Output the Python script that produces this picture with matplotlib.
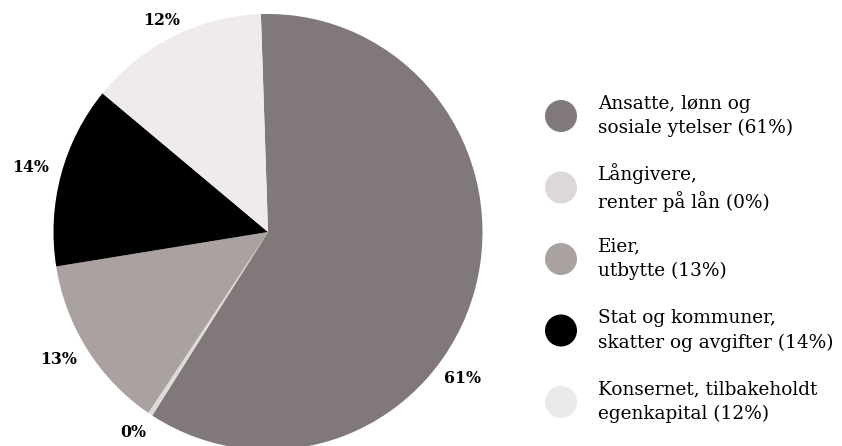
import matplotlib
matplotlib.use("Agg")
import matplotlib.pyplot as plt
from matplotlib.patches import Circle

# legend texts and slice labels
categories = [
    "Ansatte, lønn og\nsosiale ytelser (61%)",
    "Långivere,\nrenter på lån (0%)",
    "Eier,\nutbytte (13%)",
    "Stat og kommuner,\nskatter og avgifter (14%)",
    "Konsernet, tilbakeholdt\negenkapital (12%)",
]
pct_labels = ["61%", "0%", "13%", "14%", "12%"]
# shares as drawn in the picture (angles)
shares = [59.6, 0.35, 13.05, 13.5, 13.5]

slice_colors = ["#817879", "#dedada", "#a9a2a1", "#000000", "#eeebea"]
legend_colors = ["#817879", "#dcd8d8", "#a9a2a1", "#000000", "#ebe8e8"]
# where the percent labels sit, in pie radius units
label_xy = [(0.909, -0.670), (-0.629, -0.922), (-0.975, -0.587),
            (-1.109, 0.294), (-0.494, 0.968)]

W, H = 842, 446
fig = plt.figure(figsize=(W / 100, H / 100), dpi=100)
fig.patch.set_facecolor("white")

cx, cy, rx, ry = 268, 446 - 232, 214.5, 218
ax = fig.add_axes([(cx - rx) / W, (cy - ry) / H, 2 * rx / W, 2 * ry / H])
ax.pie(shares, colors=slice_colors, startangle=91.9, counterclock=False,
       radius=1, wedgeprops=dict(linewidth=0))
ax.set_aspect("auto")
ax.set_xlim(-1, 1)
ax.set_ylim(-1, 1)
ax.axis("off")

for txt, (x, y) in zip(pct_labels, label_xy):
    ax.text(x, y, txt, ha="center", va="center", fontsize=11.3,
            fontweight="bold", family="DejaVu Serif", clip_on=False)

# legend drawn by hand in pixel units
lax = fig.add_axes([0, 0, 1, 1])
lax.set_xlim(0, W)
lax.set_ylim(H, 0)
lax.axis("off")
row0, step = 116, 71.5
for i, (lab, col) in enumerate(zip(categories, legend_colors)):
    y = row0 + i * step
    lax.add_patch(Circle((561, y), 16, facecolor=col, edgecolor="none"))
    lax.text(598, y, lab, ha="left", va="center", fontsize=13.3,
             family="DejaVu Serif", linespacing=1.45, clip_on=False)

fig.savefig("out.png", dpi=100, facecolor="white")
